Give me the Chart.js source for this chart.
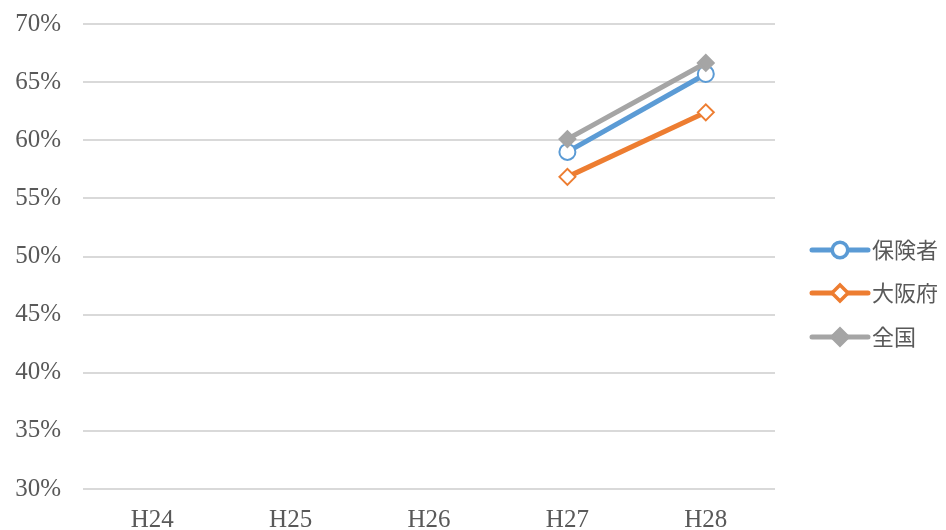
<!DOCTYPE html>
<html lang="ja">
<head>
<meta charset="utf-8">
<title>受診率の推移</title>
<script src="https://cdn.jsdelivr.net/npm/chart.js@4/dist/chart.umd.min.js"></script>
<style>
    html, body { margin: 0; padding: 0; background: #fff; }
    #wrap { width: 946px; height: 530px; }
</style>
</head>
<body>
<div id="wrap"><canvas id="rateChart" width="946" height="530"></canvas></div>
<script>
const years = ["H24", "H25", "H26", "H27", "H28"];
const hokenshaRates = [null, null, null, 59.0, 65.7];
const osakaRates = [null, null, null, 56.85, 62.4];
const zenkokuRates = [null, null, null, 60.1, 66.65];
const yTicks = [30, 35, 40, 45, 50, 55, 60, 65, 70];

const labelColor = "#595959";
const gridColor = "#d9d9d9";

// legend on the right: line sample with the marker in the middle, then the name
const sideLegend = {
    id: "sideLegend",
    afterDraw(chart) {
        const ctx = chart.ctx;
        const x0 = 812, x1 = 868;
        const rows = [250, 293, 337];
        chart.data.datasets.forEach((ds, i) => {
            const y = rows[i];
            ctx.save();
            ctx.strokeStyle = ds.borderColor;
            ctx.lineWidth = ds.borderWidth;
            ctx.lineCap = "round";
            ctx.beginPath();
            ctx.moveTo(x0, y);
            ctx.lineTo(x1, y);
            ctx.stroke();
            Chart.helpers.drawPoint(ctx, {
                pointStyle: ds.pointStyle,
                radius: ds.pointRadius - 1,
                borderWidth: ds.pointBorderWidth
            }, (x0 + x1) / 2, y);
            ctx.fillStyle = ds.pointBackgroundColor;
            ctx.strokeStyle = ds.borderColor;
            ctx.lineWidth = ds.pointBorderWidth;
            ctx.fill();
            ctx.stroke();
            ctx.fillStyle = labelColor;
            ctx.font = '22px "Noto Sans CJK JP"';
            ctx.textBaseline = "middle";
            ctx.textAlign = "left";
            ctx.fillText(ds.label, x1 + 4, y);
            ctx.restore();
        });
    }
};

function makeSet(label, data, color, style, fill, order) {
    return {
        label: label,
        data: data,
        borderColor: color,
        backgroundColor: color,
        borderWidth: 5,
        pointStyle: style,
        pointRadius: 8,
        pointHoverRadius: 8,
        pointBorderWidth: 2,
        pointBackgroundColor: fill,
        pointBorderColor: color,
        spanGaps: false,
        order: order
    };
}

new Chart(document.getElementById("rateChart"), {
    type: "line",
    data: {
        labels: years,
        datasets: [
            makeSet("保険者", hokenshaRates, "#5b9bd5", "circle", "#ffffff", 3),
            makeSet("大阪府", osakaRates, "#ed7d31", "rectRot", "#ffffff", 2),
            makeSet("全国", zenkokuRates, "#a5a5a5", "rectRot", "#a5a5a5", 1)
        ]
    },
    options: {
        responsive: false,
        animation: false,
        layout: { padding: { top: 24, right: 171, left: 0, bottom: 0 } },
        plugins: {
            legend: { display: false },
            tooltip: { enabled: false }
        },
        scales: {
            x: {
                offset: true,
                grid: { display: false, drawTicks: false },
                border: { display: false },
                afterFit(scale) {
                    scale.height = 41;
                    scale.paddingLeft = 0;
                    scale.paddingRight = 0;
                },
                ticks: {
                    color: labelColor,
                    padding: 16,
                    font: { family: '"Liberation Serif"', size: 25 }
                }
            },
            y: {
                min: 30,
                max: 70,
                afterFit(scale) {
                    scale.width = 83;
                    scale.paddingTop = 0;
                    scale.paddingBottom = 0;
                },
                afterBuildTicks(scale) {
                    scale.ticks = yTicks.map(v => ({ value: v }));
                },
                grid: { color: gridColor, lineWidth: 2, drawTicks: false },
                border: { display: false },
                ticks: {
                    color: labelColor,
                    padding: 22,
                    font: { family: '"Liberation Serif"', size: 25 },
                    callback: v => v + "%"
                }
            }
        }
    },
    plugins: [sideLegend]
});
</script>
</body>
</html>
